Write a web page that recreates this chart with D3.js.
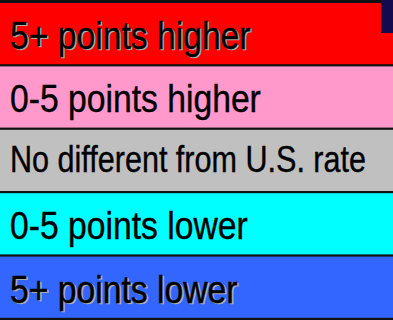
<!DOCTYPE html>
<html>
<head>
<meta charset="utf-8">
<script src="https://cdn.jsdelivr.net/npm/d3@7"></script>
<style>
  html, body { margin: 0; padding: 0; background: #ffffff; }
  svg { display: block; }
</style>
</head>
<body>
<svg id="legend" width="393" height="320"></svg>
<script>
// Legend categories, top to bottom
const categories = [
  "5+ points higher",
  "0-5 points higher",
  "No different from U.S. rate",
  "0-5 points lower",
  "5+ points lower"
];
// Fill for each category
const palette = ["#ff0000", "#ff99cc", "#c0c0c0", "#00ffff", "#3366ff"];
// Categories whose label carries a drop shadow
const shadowed = ["5+ points higher", "5+ points lower"];

const W = 393, H = 320;
const svg = d3.select("#legend");

// Dark frame behind the rows shows through as separator lines
svg.append("rect")
  .attr("x", 0).attr("y", 0).attr("width", W).attr("height", H)
  .attr("fill", "#111111");

const y = d3.scaleBand()
  .domain(categories)
  .range([3, H]);

const color = d3.scaleOrdinal().domain(categories).range(palette);

const rows = svg.selectAll("g.row")
  .data(categories)
  .join("g")
  .attr("class", "row")
  .attr("transform", d => `translate(0,${y(d)})`);

rows.append("rect")
  .attr("x", 0)
  .attr("y", 0)
  .attr("width", W)
  .attr("height", y.bandwidth() - 2.2)
  .attr("fill", d => color(d));

// Condensed lettering: regular sans squeezed horizontally
const font = "'Liberation Sans', Arial, sans-serif";
const squeeze = 0.875;
const baseSize = 38.5;
const maxLabel = 356;   // widest a label may run inside a row

function addLabel(sel, dx, dy, fill) {
  const g = sel.append("g")
    .attr("class", "label")
    .attr("transform", `translate(${10 + dx},0) scale(${squeeze},1)`);
  const t = g.append("text")
    .attr("x", 0)
    .attr("font-family", font)
    .attr("font-size", baseSize)
    .attr("fill", fill)
    .attr("stroke", fill)
    .attr("stroke-width", 0.4)
    .text(d => d);
  t.each(function() {
    const w = this.getComputedTextLength() * squeeze;
    const el = d3.select(this);
    if (w > maxLabel) {
      // long label: slightly smaller type, compressed to the row width
      el.attr("font-size", 37)
        .attr("textLength", maxLabel / squeeze)
        .attr("lengthAdjust", "spacingAndGlyphs")
        .attr("y", 42.3 + dy);
    } else {
      el.attr("y", 46 + dy);
    }
  });
}

addLabel(rows.filter(d => shadowed.includes(d)), 1.5, 1.5, "#b0b0b0");
addLabel(rows, 0, 0, "#000000");

// Dark corner block at the top right
svg.append("rect")
  .attr("x", 381).attr("y", 0).attr("width", W - 381).attr("height", 33)
  .attr("fill", "#140a4f");
</script>
</body>
</html>
